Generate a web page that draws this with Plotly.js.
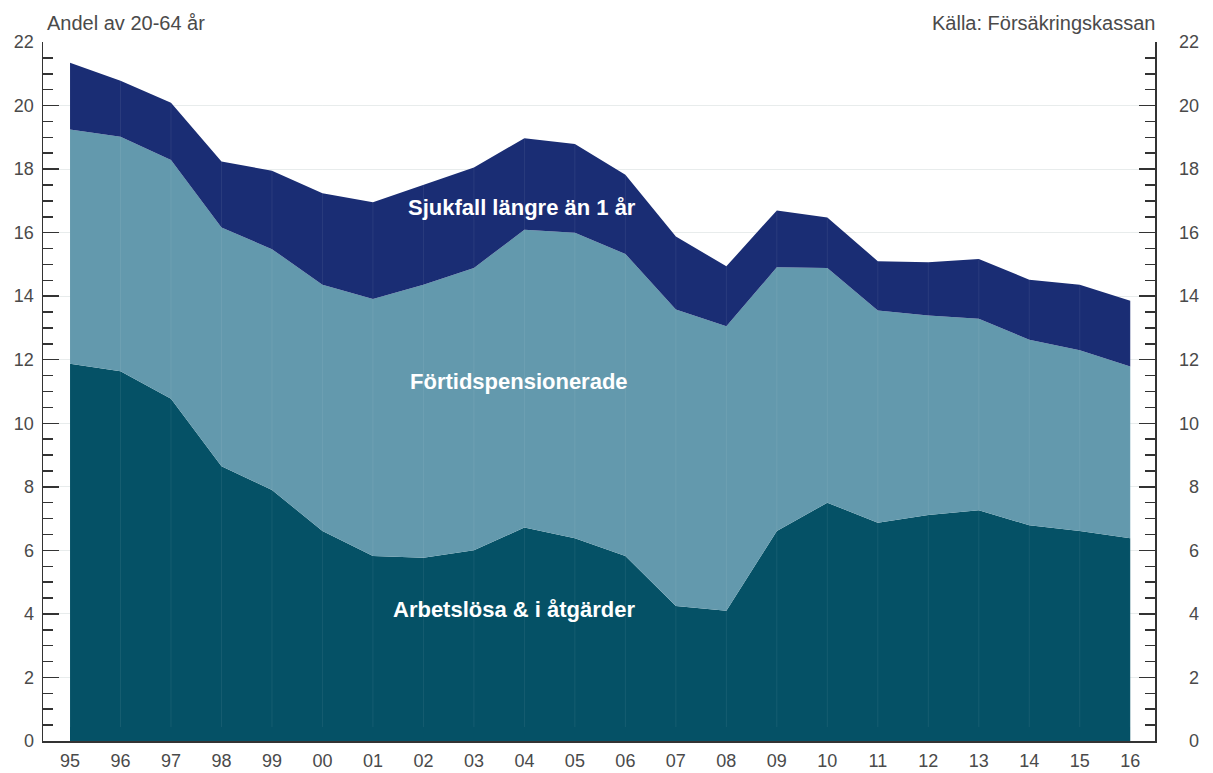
<!DOCTYPE html>
<html>
<head>
<meta charset="utf-8">
<script src="https://cdn.plot.ly/plotly-3.0.1.min.js"></script>
<style>html,body{margin:0;padding:0;background:#fff;}#chart{width:1213px;height:773px;}</style>
</head>
<body>
<div id="chart"></div>
<script>
const years = ["95","96","97","98","99","00","01","02","03","04","05","06","07","08","09","10","11","12","13","14","15","16"];
const arbetslosa = [11.87,11.64,10.77,8.65,7.90,6.61,5.82,5.77,6.00,6.72,6.38,5.82,4.25,4.10,6.61,7.50,6.87,7.11,7.26,6.79,6.61,6.38];
const fortidspension = [7.38,7.38,7.52,7.51,7.58,7.75,8.09,8.59,8.89,9.37,9.62,9.51,9.33,8.95,8.30,7.39,6.68,6.28,6.03,5.84,5.69,5.41];
const sjukfall = [2.10,1.76,1.80,2.08,2.47,2.88,3.05,3.14,3.16,2.88,2.79,2.49,2.30,1.89,1.79,1.59,1.55,1.68,1.88,1.89,2.06,2.07];
const seriesNames = ["Arbetslösa & i åtgärder","Förtidspensionerade","Sjukfall längre än 1 år"];
const yTicks = [0,2,4,6,8,10,12,14,16,18,20,22];

const colors = ["#055166","#6399ad","#1a2d74"];
const idx = years.map((_, i) => i);
const data = [arbetslosa, fortidspension, sjukfall].map((vals, k) => ({
  x: idx, y: vals, type: "scatter", mode: "lines", stackgroup: "one",
  line: {width: 0, color: colors[k]}, fillcolor: colors[k], name: seriesNames[k],
  hoverinfo: "skip", showlegend: false
}));
data.push({x: idx, y: arbetslosa, yaxis: "y2", type: "scatter", mode: "lines",
  line: {width: 0, color: "rgba(0,0,0,0)"}, hoverinfo: "skip", showlegend: false});

const FF = "Liberation Sans, Arial, sans-serif";
const tickFont = {family: FF, size: 18, color: "#4a4a4a"};
const yCommon = {
  range: [0, 22], tickvals: yTicks,
  ticks: "inside", ticklen: 16, tickwidth: 1.5, tickcolor: "#333",
  minor: {dtick: 0.5, ticks: "inside", ticklen: 10, tickwidth: 1.5, tickcolor: "#333", showgrid: false},
  showline: true, linecolor: "#333", linewidth: 1.5, tickfont: tickFont, zeroline: false, fixedrange: true
};

// faint vertical lines at each year, derived from the categories
const shapes = idx.map(i => ({type: "line", xref: "x", yref: "paper", x0: i, x1: i, y0: 0.02, y1: 1,
  line: {color: "rgba(255,255,255,0.07)", width: 1}, layer: "above"}));

const layout = {
  width: 1213, height: 773,
  margin: {l: 43, r: 58, t: 42, b: 32},
  paper_bgcolor: "#fff", plot_bgcolor: "#fff",
  showlegend: false,
  xaxis: {range: [-0.535, 21.49], tickvals: idx, ticktext: years, ticks: "", showgrid: false,
    showline: true, linecolor: "#333", linewidth: 1.5, tickfont: tickFont, zeroline: false, fixedrange: true,
    ticklabelstandoff: 3},
  yaxis: Object.assign({}, yCommon, {side: "left", showgrid: true, gridcolor: "#e8ecec", gridwidth: 1,
    ticktext: yTicks.map(String), ticklabelstandoff: 4}),
  yaxis2: Object.assign({}, yCommon, {side: "right", overlaying: "y", showgrid: false,
    ticktext: yTicks.map(v => (v < 10 ? "\u2007" : "") + v), ticklabelstandoff: 19}),
  shapes: shapes,
  annotations: [
    {xref: "paper", yref: "paper", x: 0, y: 1, yshift: 6, xshift: 2, xanchor: "left", yanchor: "bottom", showarrow: false,
     text: "Andel av 20-64 år", font: {family: FF, size: 20, color: "#4a4a4a"}},
    {xref: "paper", yref: "paper", x: 1, y: 1, yshift: 6, xshift: 2, xanchor: "right", yanchor: "bottom", showarrow: false,
     text: "Källa: Försäkringskassan", font: {family: FF, size: 20, color: "#4a4a4a"}},
    {xref: "x", yref: "y", x: 8.95, y: 16.78, showarrow: false, text: "<b>" + seriesNames[2] + "</b>",
     font: {family: FF, size: 22, color: "#fff"}},
    {xref: "x", yref: "y", x: 8.9, y: 11.3, showarrow: false, text: "<b>" + seriesNames[1] + "</b>",
     font: {family: FF, size: 22, color: "#fff"}},
    {xref: "x", yref: "y", x: 8.8, y: 4.15, showarrow: false, text: "<b>" + seriesNames[0] + "</b>",
     font: {family: FF, size: 22, color: "#fff"}}
  ]
};
Plotly.newPlot("chart", data, layout, {displayModeBar: false, staticPlot: true});
</script>
</body>
</html>
